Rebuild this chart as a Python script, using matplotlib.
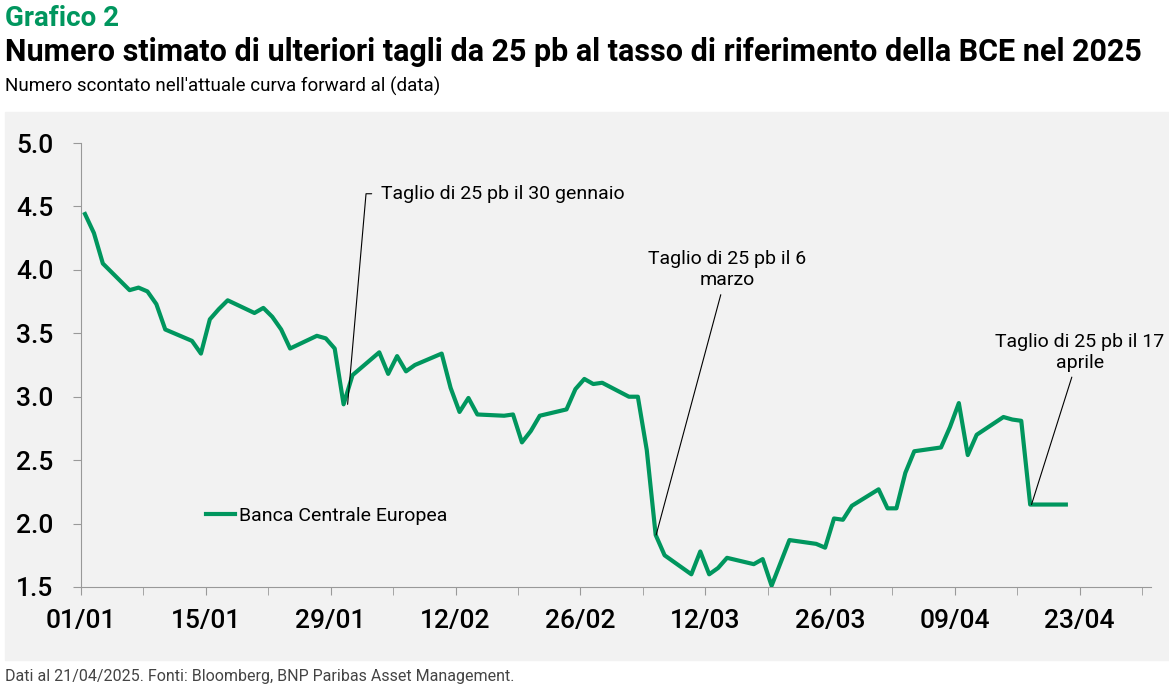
import matplotlib
matplotlib.use("Agg")
import matplotlib.pyplot as plt
from matplotlib.patches import Rectangle

plt.rcParams['font.family'] = ['Roboto', 'DejaVu Sans']

# days since 01/01/2025
days = [0, 1, 2, 5, 6, 7, 8, 9, 12, 13, 14, 15, 16, 19, 20, 21, 22, 23, 26, 27, 28, 29, 30,
        33, 34, 35, 36, 37, 40, 41, 42, 43, 44, 47, 48, 49, 50, 51, 54, 55, 56, 57, 58,
        61, 62, 63, 64, 65, 68, 69, 70, 71, 72, 75, 76, 77, 79, 82, 83, 84, 85, 86,
        89, 90, 91, 92, 93, 96, 97, 98, 99, 100, 103, 104, 105, 106, 110]
tagli = [4.44, 4.29, 4.05, 3.84, 3.86, 3.83, 3.73, 3.53, 3.44, 3.34, 3.61, 3.69, 3.76,
         3.66, 3.70, 3.63, 3.53, 3.38, 3.48, 3.46, 3.38, 2.94, 3.17,
         3.35, 3.18, 3.32, 3.20, 3.25, 3.34, 3.07, 2.88, 2.99, 2.86, 2.85, 2.86, 2.64, 2.73, 2.85,
         2.90, 3.06, 3.14, 3.10, 3.11,
         3.00, 3.00, 2.58, 1.91, 1.75, 1.60, 1.78, 1.60, 1.65, 1.73, 1.68, 1.72, 1.51,
         1.87, 1.84, 1.81, 2.04, 2.03, 2.14,
         2.27, 2.12, 2.12, 2.40, 2.57, 2.60, 2.76, 2.95, 2.54, 2.70, 2.84, 2.82, 2.81, 2.15, 2.15]
tick_days = [0, 14, 28, 42, 56, 70, 84, 98, 112]
tick_labels = ['01/01', '15/01', '29/01', '12/02', '26/02', '12/03', '26/03', '09/04', '23/04']

green = '#00965e'
W, H = 1169, 690
fig = plt.figure(figsize=(W / 100, H / 100), dpi=100)
fig.patches.append(Rectangle((5 / W, 1 - 660 / H), 1164 / W, 548 / H,
                             transform=fig.transFigure, color='#f2f2f2', zorder=-10))

ax = fig.add_axes([81 / W, 1 - 587 / H, 1070 / W, 444 / H])
ax.set_zorder(5)
ax.set_facecolor('none')
x = [d + 0.45 for d in days]
ax.plot(x, tagli, color=green, lw=3, label='Banca Centrale Europea', zorder=3)

ax.set_xlim(0, 120)
ax.set_ylim(1.5, 5.0)
ax.set_yticks([1.5, 2.0, 2.5, 3.0, 3.5, 4.0, 4.5, 5.0])
ax.set_yticklabels([f'{v:.1f}' for v in ax.get_yticks()])
ax.set_xticks(tick_days)
ax.set_xticklabels(tick_labels)
ax.set_xticks(list(range(7, 120, 14)), minor=True)
for s in ['top', 'right']:
    ax.spines[s].set_visible(False)
for s in ['left', 'bottom']:
    ax.spines[s].set_color('#999999')
ax.tick_params(axis='both', which='both', colors='#999999', labelcolor='black',
               labelsize=19, length=6)
ax.tick_params(axis='y', pad=14)
ax.tick_params(axis='x', pad=10)
for lab in ax.get_xticklabels() + ax.get_yticklabels():
    lab.set_fontweight('medium')

ax.legend(loc='upper left', bbox_to_anchor=(0.1, 0.22), frameon=False, fontsize=14,
          handlelength=1.5, handletextpad=0.2)

def note(text, xy, xytext, ha):
    ax.annotate(text, xy=xy, xytext=xytext, textcoords='data', ha=ha, va='center',
                fontsize=14, arrowprops=dict(arrowstyle='-', color='black', lw=0.8,
                                             shrinkA=2, shrinkB=0))

# first note: text with a bent leader line
ax.text(33.7, 4.6, 'Taglio di 25 pb il 30 gennaio', ha='left', va='center', fontsize=14)
ax.annotate('', xy=(29.9, 2.94), xytext=(32.6, 4.6),
            arrowprops=dict(arrowstyle='-', color='black', lw=0.8, shrinkA=0, shrinkB=0,
                            connectionstyle='angle,angleA=0,angleB=85,rad=0'))
note('Taglio di 25 pb il 6\nmarzo', (64.5, 1.91), (72.5, 4.0), 'center')
note('Taglio di 25 pb il 17\naprile', (106.6, 2.15), (112, 3.35), 'center')

fig.text(5 / W, 1 - 18 / H, 'Grafico 2', color=green, fontsize=20, fontweight='bold', va='center')
fig.text(5 / W, 1 - 52 / H,
         'Numero stimato di ulteriori tagli da 25 pb al tasso di riferimento della BCE nel 2025',
         fontsize=22, fontweight='bold', va='center')
fig.text(5 / W, 1 - 86 / H, "Numero scontato nell'attuale curva forward al (data)",
         fontsize=13.5, va='center')
fig.text(5 / W, 1 - 676 / H, 'Dati al 21/04/2025. Fonti: Bloomberg, BNP Paribas Asset Management.',
         fontsize=11.5, color='#444444', va='center')

fig.savefig('out.png', dpi=100)
